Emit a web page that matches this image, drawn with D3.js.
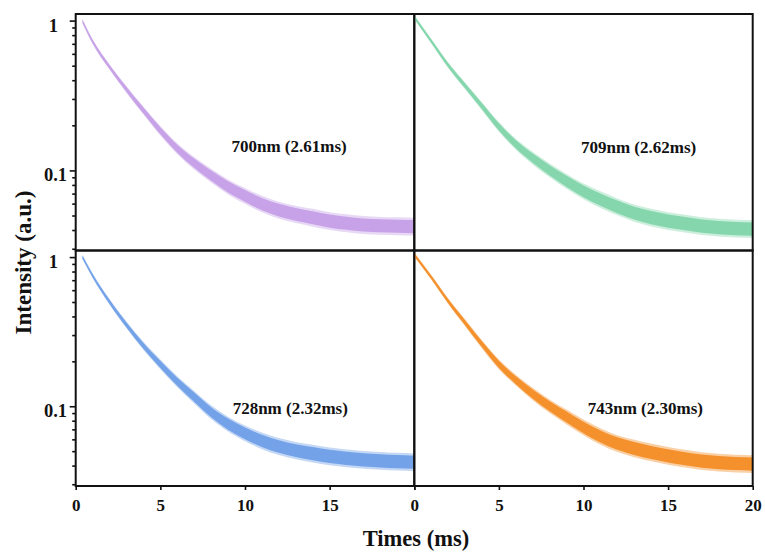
<!DOCTYPE html>
<html>
<head>
<meta charset="utf-8">
<script src="https://cdn.jsdelivr.net/npm/d3@7/dist/d3.min.js"></script>
<style>
  body { margin: 0; background: #fff; }
  text { font-family: "Liberation Serif", "Times New Roman", serif; font-weight: bold; fill: #111; }
</style>
</head>
<body>
<svg id="chart" width="765" height="553"></svg>
<script>
// decay data (time in ms, normalised intensity)
const leftTimes  = [0.4, 1, 2, 3, 4, 5, 6, 7, 8, 9, 10, 11, 12, 13, 14, 15, 16, 17, 18, 19, 20];
const rightTimes = [0.05, 1, 2, 3, 4, 5, 6, 7, 8, 9, 10, 11, 12, 13, 14, 15, 16, 17, 18, 19, 20];
const int700 = [0.99, 0.724, 0.49, 0.347, 0.251, 0.184, 0.1396, 0.1117, 0.0923, 0.0776, 0.0676, 0.0596, 0.0543, 0.0509, 0.0483, 0.0459, 0.0444, 0.0432, 0.0427, 0.0424, 0.0422];
const int709 = [1.035, 0.73, 0.505, 0.367, 0.268, 0.195, 0.1496, 0.1208, 0.1, 0.0845, 0.0724, 0.0638, 0.0571, 0.0519, 0.0484, 0.0459, 0.0441, 0.0425, 0.0415, 0.0409, 0.0406];
const int728 = [1.0, 0.75, 0.501, 0.351, 0.254, 0.191, 0.146, 0.115, 0.0912, 0.0759, 0.0658, 0.0586, 0.0537, 0.0504, 0.0481, 0.0461, 0.0447, 0.0437, 0.043, 0.0425, 0.0421];
const int743 = [1.02, 0.733, 0.507, 0.363, 0.26, 0.191, 0.1496, 0.1208, 0.1, 0.0847, 0.0721, 0.0627, 0.0562, 0.0521, 0.049, 0.0465, 0.0445, 0.0429, 0.0419, 0.0413, 0.0409];
// half width of the scatter band (decades), same grid
const spread = [0.011, 0.012, 0.014, 0.017, 0.02, 0.024, 0.027, 0.031, 0.034, 0.037, 0.039, 0.041, 0.042, 0.043, 0.044, 0.044, 0.044, 0.044, 0.044, 0.044, 0.044];

const labels = ["700nm (2.61ms)", "709nm (2.62ms)", "728nm (2.32ms)", "743nm (2.30ms)"];
const xTicks = [0, 5, 10, 15, 20];
const yMajor = [0.1, 1];
const yMinor = [0.03, 0.04, 0.05, 0.06, 0.07, 0.08, 0.09, 0.2, 0.3, 0.4, 0.5, 0.6, 0.7, 0.8, 0.9];

const svg = d3.select("#chart");

const colX = [[75.7, 414.3], [414.3, 752.7]];
const rowY = [[250.5, 14], [486, 250.5]];

const panels = [
  { col: 0, row: 0, times: leftTimes,  values: int700, label: labels[0], color: "#c49de6", at: [9.2, 0.133] },
  { col: 1, row: 0, times: rightTimes, values: int709, label: labels[1], color: "#7fd4a8", at: [9.85, 0.13] },
  { col: 0, row: 1, times: leftTimes,  values: int728, label: labels[2], color: "#6b9de6", at: [9.27, 0.0887] },
  { col: 1, row: 1, times: rightTimes, values: int743, label: labels[3], color: "#f38b22", at: [10.25, 0.0887] }
];

panels.forEach((p, k) => {
  const x = d3.scaleLinear().domain([0, 20]).range(colX[p.col]);
  const y = d3.scaleLog().domain([0.0292, 1.107]).range(rowY[p.row]);

  const clipId = "clip" + k;
  svg.append("clipPath").attr("id", clipId)
    .append("rect")
      .attr("x", colX[p.col][0]).attr("y", rowY[p.row][1])
      .attr("width", colX[p.col][1] - colX[p.col][0])
      .attr("height", rowY[p.row][0] - rowY[p.row][1]);

  const g = svg.append("g").attr("clip-path", "url(#" + clipId + ")");

  // outer halo for the loose points, then the dense core of the scatter
  [[1.35, 0.4], [1.0, 0.92]].forEach(([widen, op]) => {
    const band = d3.area()
      .x((d, i) => x(p.times[i]))
      .y0((d, i) => y(d / Math.pow(10, spread[i] * widen)))
      .y1((d, i) => y(d * Math.pow(10, spread[i] * widen)))
      .curve(d3.curveMonotoneX);
    g.append("path")
      .datum(p.values)
      .attr("d", band)
      .attr("fill", p.color)
      .attr("fill-opacity", op);
  });

  svg.append("text")
    .attr("x", x(p.at[0]))
    .attr("y", y(p.at[1]))
    .attr("font-size", 17)
    .text(p.label);

  // frame
  svg.append("rect")
    .attr("x", colX[p.col][0]).attr("y", rowY[p.row][1])
    .attr("width", colX[p.col][1] - colX[p.col][0])
    .attr("height", rowY[p.row][0] - rowY[p.row][1])
    .attr("fill", "none")
    .attr("stroke", "#111")
    .attr("stroke-width", 2);

  if (p.col === 0) {
    const minorAxis = svg.append("g")
      .attr("transform", `translate(${colX[0][0]},0)`)
      .call(d3.axisLeft(y).tickValues(yMinor).tickSize(3.5).tickFormat(""));
    const majorAxis = svg.append("g")
      .attr("transform", `translate(${colX[0][0]},0)`)
      .call(d3.axisLeft(y).tickValues(yMajor).tickSize(6).tickPadding(3).tickFormat(d => d === 1 ? "1" : "0.1"));
    [minorAxis, majorAxis].forEach(a => {
      a.select(".domain").remove();
      a.attr("font-family", null).attr("font-size", null);
      a.selectAll("line").attr("stroke", "#111").attr("stroke-width", 1.6);
    });
    majorAxis.selectAll("text")
      .attr("font-size", 18.5)
      .attr("y", 4.5)
      .attr("x", d => d === 1 ? -17.7 : -8.7);
  }

  if (p.row === 1) {
    const xa = svg.append("g")
      .attr("transform", `translate(0,${rowY[1][0]})`)
      .call(d3.axisBottom(x).tickValues(xTicks).tickSize(4).tickPadding(9)
        .tickFormat(d => (p.col === 0 && d === 20) ? "" : d));
    xa.select(".domain").remove();
    xa.attr("font-family", null).attr("font-size", null);
    xa.selectAll("line").attr("stroke", "#111").attr("stroke-width", 1.6);
    xa.selectAll("text").attr("font-size", 17);
  }
});

svg.append("text")
  .attr("x", 416)
  .attr("y", 546)
  .attr("text-anchor", "middle")
  .attr("font-size", 22.5)
  .text("Times (ms)");

svg.append("text")
  .attr("transform", "translate(31,262.5) rotate(-90)")
  .attr("text-anchor", "middle")
  .attr("font-size", 23)
  .text("Intensity (a.u.)");
</script>
</body>
</html>
